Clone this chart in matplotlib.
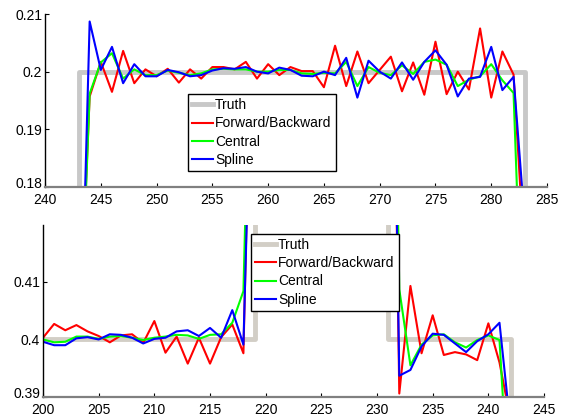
import numpy as np
import matplotlib
matplotlib.use("Agg")
import matplotlib.pyplot as plt
import matplotlib.transforms as mtransforms

plt.rcParams["font.family"] = ["Liberation Sans", "DejaVu Sans"]
plt.rcParams["font.size"] = 10

# panel 1 (sample positions 240..285)
x_top = list(range(240, 286))
truth_top_x = [240, 243, 243, 283, 283, 285]
truth_top_y = [0.0, 0.0, 0.2, 0.2, 0.0, 0.0]
fb_top = [0.0, 0.0, 0.0, 0.150,
          0.1957, 0.2017, 0.1965, 0.2036, 0.1980, 0.2004, 0.1992, 0.2005, 0.1981, 0.2004,
          0.1988, 0.2008, 0.2008, 0.2004, 0.2017, 0.1988, 0.2013, 0.1994, 0.2008, 0.2001,
          0.2001, 0.1973, 0.2045, 0.1975, 0.2035, 0.1980, 0.2003, 0.2026, 0.1966, 0.2016,
          0.1960, 0.2052, 0.1961, 0.2000, 0.1969, 0.2075, 0.1955, 0.2035, 0.1995,
          0.167, 0.0, 0.0]
central_top = [0.0, 0.0, 0.0, 0.145,
               0.1962, 0.2016, 0.2032, 0.1988, 0.2004, 0.1994, 0.1994, 0.2002, 0.1998, 0.1994,
               0.1997, 0.2004, 0.2005, 0.2004, 0.2004, 0.2000, 0.2000, 0.2003, 0.2003, 0.1997,
               0.1996, 0.1998, 0.1997, 0.2017, 0.1975, 0.2008, 0.1998, 0.1994, 0.2011, 0.1996,
               0.2017, 0.2021, 0.2012, 0.1975, 0.1986, 0.1992, 0.2013, 0.1985, 0.1963,
               0.142, 0.0, 0.0]
spline_top = [0.0, 0.0, 0.0, 0.137,
              0.2087, 0.2003, 0.2043, 0.1980, 0.2013, 0.1992, 0.1992, 0.2003, 0.1999, 0.1992,
              0.1994, 0.2002, 0.2006, 0.2005, 0.2008, 0.2000, 0.1997, 0.2007, 0.2003, 0.1993,
              0.1992, 0.2000, 0.1994, 0.2024, 0.1955, 0.2019, 0.2000, 0.1988, 0.2016, 0.1986,
              0.2017, 0.2037, 0.2012, 0.1957, 0.1988, 0.1991, 0.2043, 0.1968, 0.1991,
              0.174, 0.0, 0.0]

# panel 2 (sample positions 200..245)
x_bot = list(range(200, 246))
truth_bot_x = [200, 219, 219, 231, 231, 242, 242, 245]
truth_bot_y = [0.4, 0.4, 0.5, 0.5, 0.4, 0.4, 0.3, 0.3]
fb_bot = [0.4003, 0.4027, 0.4016, 0.4025, 0.4014, 0.4006, 0.3995, 0.4007, 0.4009, 0.3994,
          0.4032, 0.3977, 0.4005, 0.3958, 0.4003, 0.3958, 0.4004, 0.4026, 0.3976,
          0.48, 0.5, 0.5, 0.5, 0.5, 0.5, 0.5, 0.5, 0.5, 0.5, 0.5, 0.5, 0.52,
          0.3906, 0.4093, 0.3976, 0.4042, 0.3973, 0.3978, 0.3974, 0.3964, 0.4028, 0.3960,
          0.386, 0.3, 0.3, 0.3]
central_bot = [0.4000, 0.3995, 0.3996, 0.4005, 0.4005, 0.4001, 0.4005, 0.4006, 0.4003, 0.3999,
               0.4003, 0.4005, 0.4008, 0.4007, 0.4001, 0.4008, 0.4009, 0.4029, 0.4084,
               0.485, 0.5, 0.5, 0.5, 0.5, 0.5, 0.5, 0.5, 0.5, 0.5, 0.5, 0.5, 0.52,
               0.4087, 0.3955, 0.3991, 0.4007, 0.4009, 0.3995, 0.3986, 0.3999, 0.4007, 0.3999,
               0.367, 0.3, 0.3, 0.3]
spline_bot = [0.3996, 0.3990, 0.3990, 0.4002, 0.4004, 0.4000, 0.4009, 0.4008, 0.4003, 0.3993,
              0.4001, 0.4003, 0.4014, 0.4016, 0.4006, 0.4020, 0.4003, 0.4051, 0.3991,
              0.47, 0.5, 0.5, 0.5, 0.5, 0.5, 0.5, 0.5, 0.5, 0.5, 0.5, 0.5, 0.52,
              0.3937, 0.3947, 0.3988, 0.4010, 0.4008, 0.3993, 0.3978, 0.3997, 0.4009, 0.4029,
              0.3845, 0.3, 0.3, 0.3]

labels = ["Truth", "Forward/Backward", "Central", "Spline"]


def style_axes(ax, xticks, yticks, ytick_labels):
    ax.spines["top"].set_visible(False)
    ax.spines["right"].set_visible(False)
    ax.spines["left"].set_color("black")
    ax.spines["left"].set_linewidth(1.0)
    ax.spines["bottom"].set_color("#808080")
    ax.spines["bottom"].set_linewidth(1.6)
    ax.set_xticks(xticks)
    ax.set_yticks(yticks)
    ax.set_yticklabels(ytick_labels)
    ax.tick_params(direction="in", length=3, width=0.8, labelsize=10,
                   color="black")
    ax.tick_params(axis="x", pad=4)
    ax.tick_params(axis="y", pad=2)
    # lowest y label sits a bit higher so it clears the first x label
    lab = ax.get_yticklabels()[0]
    lab.set_transform(lab.get_transform() +
                      mtransforms.ScaledTranslation(0, 3 / 72, fig.dpi_scale_trans))


fig = plt.figure(figsize=(5.63, 4.17), dpi=100)

# top panel
ax1 = fig.add_axes([0.080, 0.5516, 0.8916, 0.4148])
ax1.plot(truth_top_x, truth_top_y, color="#c8c8c8", lw=3.5, label=labels[0])
ax1.plot(x_top, fb_top, color="#ff0000", lw=1.5, label=labels[1])
ax1.plot(x_top, central_top, color="#00ff00", lw=1.5, label=labels[2])
ax1.plot(x_top, spline_top, color="#0000ff", lw=1.5, label=labels[3])
ax1.set_xlim(240, 285)
ax1.set_ylim(0.18, 0.21)
style_axes(ax1, list(range(240, 286, 5)), [0.18, 0.19, 0.2, 0.21],
           ["0.18", "0.19", "0.2", "0.21"])
leg1 = ax1.legend(loc="lower left", bbox_to_anchor=(0.285, 0.0925), borderaxespad=0,
                  fancybox=False, edgecolor="black", framealpha=1, fontsize=10,
                  handlelength=1.5, handletextpad=0.15, labelspacing=0.3,
                  borderpad=0.3)
leg1.get_frame().set_linewidth(1.0)

# bottom panel
ax2 = fig.add_axes([0.0764, 0.048, 0.8899, 0.4125])
ax2.plot(truth_bot_x, truth_bot_y, color="#d2cec6", lw=3.5, label=labels[0])
ax2.plot(x_bot, fb_bot, color="#ff0000", lw=1.5, label=labels[1])
ax2.plot(x_bot, central_bot, color="#00ff00", lw=1.5, label=labels[2])
ax2.plot(x_bot, spline_bot, color="#0000ff", lw=1.5, label=labels[3])
ax2.set_xlim(200, 245)
ax2.set_ylim(0.39, 0.4199)
style_axes(ax2, list(range(200, 246, 5)), [0.39, 0.4, 0.41], ["0.39", "0.4", "0.41"])
leg2 = ax2.legend(loc="upper left", bbox_to_anchor=(0.415, 0.948), borderaxespad=0,
                  fancybox=False, edgecolor="black", framealpha=1, fontsize=10,
                  handlelength=1.5, handletextpad=0.15, labelspacing=0.3,
                  borderpad=0.3)
leg2.get_frame().set_linewidth(1.0)

fig.savefig("out.png", dpi=100)
